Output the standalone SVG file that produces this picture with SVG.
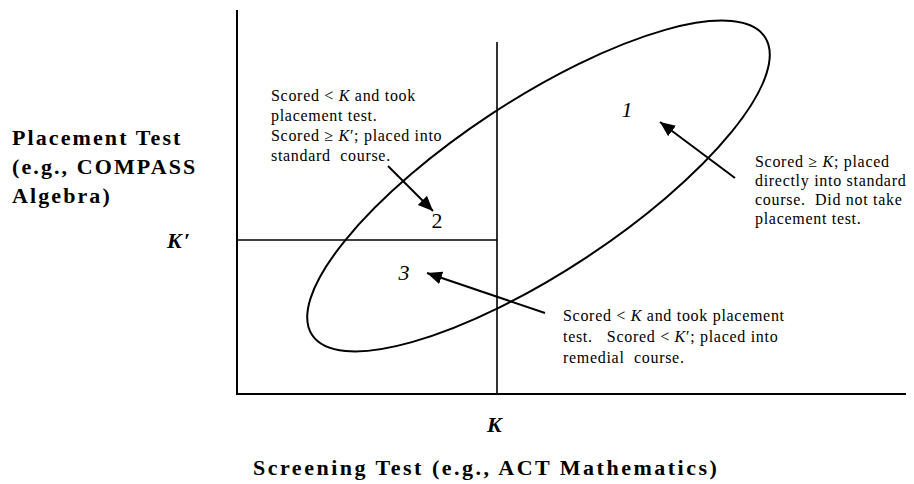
<svg xmlns="http://www.w3.org/2000/svg" width="914" height="484" viewBox="0 0 914 484">
<style>
.ax{stroke:#000;stroke-width:2;fill:none}
.ln{stroke:#000;stroke-width:1.6;fill:none}
.ell{stroke:#000;stroke-width:2;fill:none}
.arr{stroke:#000;stroke-width:2;fill:none;marker-end:url(#ah)}
.sm{font-family:"Liberation Serif","Times New Roman",serif;font-size:16px;letter-spacing:0.7px;fill:#000;white-space:pre}
.bd{font-family:"Liberation Serif","Times New Roman",serif;font-size:22px;font-weight:bold;letter-spacing:2.1px;fill:#000}
.num{font-family:"Liberation Serif","Times New Roman",serif;font-size:22px;font-style:italic;fill:#000}
.it{font-style:italic}
</style>
<defs>
<marker id="ah" markerUnits="userSpaceOnUse" markerWidth="16" markerHeight="14" refX="15" refY="6.5" orient="auto">
<path d="M0,0 L15,6.5 L0,13 z" fill="#000"/>
</marker>
</defs>
<rect width="914" height="484" fill="#fff"/>
<g id="axes">
<line class="ax" x1="237" y1="10" x2="237" y2="395"/>
<line class="ax" x1="236" y1="394" x2="906" y2="394"/>
</g>
<g id="cutoff-K">
<line class="ln" x1="497" y1="42" x2="497" y2="394"/>
</g>
<g id="cutoff-Kprime">
<line class="ln" x1="237" y1="240" x2="497" y2="240"/>
</g>
<g id="ellipse">
<ellipse class="ell" cx="538.5" cy="186" rx="271" ry="86" transform="rotate(-33.35 538.5 186)"/>
</g>
<g id="region-1"><text class="num" x="627" y="117" text-anchor="middle">1</text></g>
<g id="region-2"><text class="num" x="437" y="228" text-anchor="middle" style="font-style:normal">2</text></g>
<g id="region-3"><text class="num" x="404" y="280" text-anchor="middle">3</text></g>
<g id="note-standard-placed">
<text class="sm" x="271" y="101">Scored &lt; <tspan class="it">K</tspan> and took</text>
<text class="sm" x="271" y="121">placement test.</text>
<text class="sm" x="271" y="141">Scored ≥ <tspan class="it">K</tspan>′; placed into</text>
<text class="sm" x="271" y="161">standard  course.</text>
</g>
<g id="note-direct">
<text class="sm" x="755" y="167">Scored ≥ <tspan class="it">K</tspan>; placed</text>
<text class="sm" x="755" y="186">directly into standard</text>
<text class="sm" x="755" y="205">course.  Did not take</text>
<text class="sm" x="755" y="224">placement test.</text>
</g>
<g id="note-remedial">
<text class="sm" x="563" y="321">Scored &lt; <tspan class="it">K</tspan> and took placement</text>
<text class="sm" x="563" y="342">test.   Scored &lt; <tspan class="it">K</tspan>′; placed into</text>
<text class="sm" x="563" y="363">remedial  course.</text>
</g>
<g id="y-label">
<text class="bd" x="12" y="145">Placement Test</text>
<text class="bd" x="12" y="174">(e.g., COMPASS</text>
<text class="bd" x="12" y="203">Algebra)</text>
<text class="bd" x="167" y="248" style="font-style:italic">K′</text>
</g>
<g id="x-label">
<text class="bd" x="487" y="432" style="font-style:italic">K</text>
<text class="bd" x="253" y="475" style="letter-spacing:2.5px">Screening Test (e.g., ACT Mathematics)</text>
</g>
<g id="connectors">
<line class="arr" x1="735" y1="178" x2="660" y2="122"/>
<line class="arr" x1="388" y1="166" x2="433" y2="211"/>
<line class="arr" x1="545" y1="313" x2="427" y2="273"/>
</g>
</svg>
